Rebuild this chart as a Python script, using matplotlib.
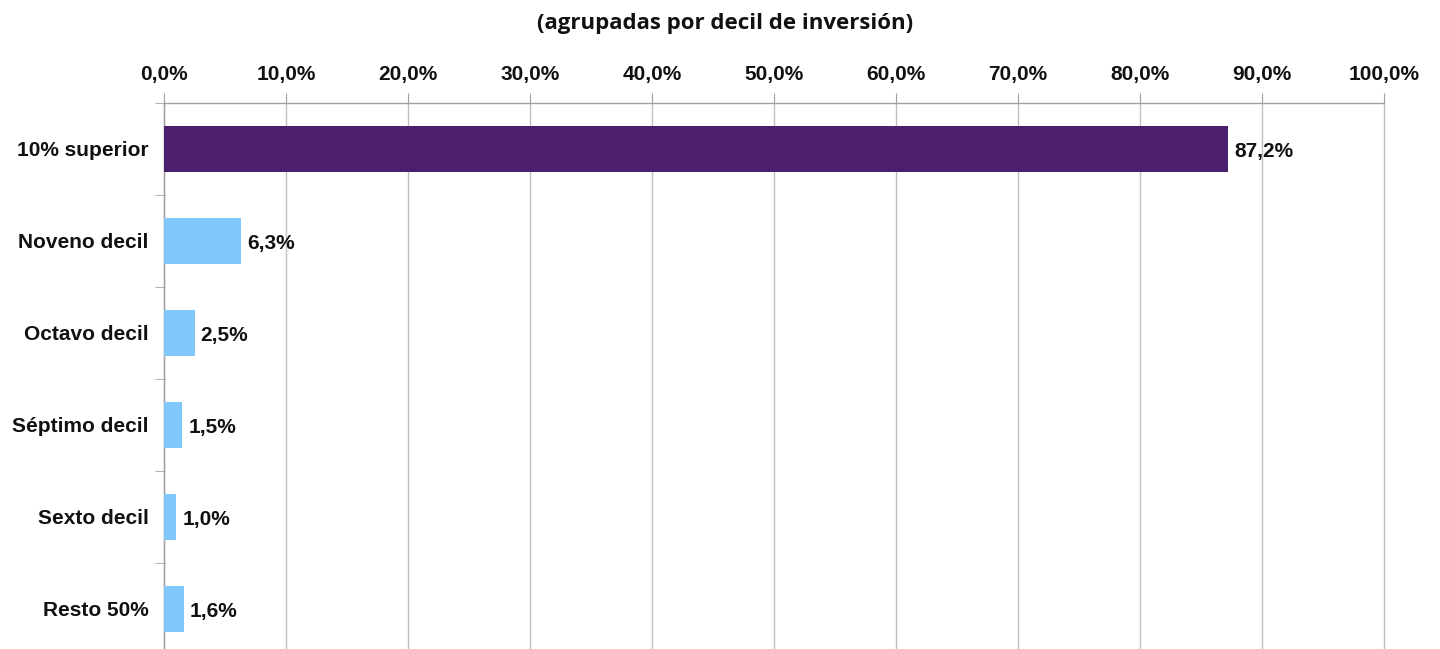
import matplotlib.pyplot as plt
import numpy as np
from matplotlib.ticker import FixedLocator

categorias = ['10% superior', 'Noveno decil', 'Octavo decil', 'Séptimo decil', 'Sexto decil', 'Resto 50%']
valores = [87.2, 6.3, 2.5, 1.5, 1.0, 1.6]
colores = ['#4b1f6b', '#80c8fb', '#80c8fb', '#80c8fb', '#80c8fb', '#80c8fb']
ticks_x = np.arange(0, 101, 10)
titulo = '(agrupadas por decil de inversión)'

fuente = 'Liberation Sans'

fig = plt.figure(figsize=(14.4, 6.49), dpi=100)
# el eje se sale un poco por abajo, como en la imagen original (recortada)
ax = fig.add_axes([164 / 1440, (649 - 655) / 649, 1220 / 1440, 552 / 649])

y = np.arange(len(categorias))
ax.barh(y, valores, height=0.5, color=colores, zorder=3)
ax.set_ylim(len(categorias) - 0.5, -0.5)
ax.set_xlim(0, 100)

for yi, v in zip(y, valores):
    ax.text(v + 0.5, yi, f'{v:.1f}%'.replace('.', ','), va='center_baseline', ha='left',
            fontsize=15, fontweight='bold', family=fuente, color='#111111', zorder=4)

ax.xaxis.tick_top()
ax.set_xticks(ticks_x)
ax.set_xticklabels([f'{t:.1f}%'.replace('.', ',') for t in ticks_x],
                   fontsize=15, fontweight='bold', family=fuente, color='#111111')
ax.tick_params(axis='x', which='major', length=7, color='#a0a0a0', pad=7)
ax.grid(axis='x', color='#c0c0c0', linewidth=1, zorder=0)
for linea in ax.get_xgridlines():
    linea.set_clip_on(False)

ax.set_yticks(y)
ax.set_yticklabels(categorias, fontsize=15, fontweight='bold', family=fuente, color='#111111')
ax.yaxis.set_minor_locator(FixedLocator(np.arange(-0.5, len(categorias), 1)))
ax.tick_params(axis='y', which='major', length=0, pad=11)
ax.tick_params(axis='y', which='minor', length=6.5, color='#a0a0a0')

for lado in ['right', 'bottom']:
    ax.spines[lado].set_visible(False)
for lado in ['top', 'left']:
    ax.spines[lado].set_color('#a0a0a0')
    ax.spines[lado].set_linewidth(1)

fig.text(725 / 1440, 1 - 23 / 649, titulo, ha='center', va='center',
         fontsize=16, fontweight='bold', family='Open Sans', color='#111111')

fig.savefig('out.png', dpi=100)
